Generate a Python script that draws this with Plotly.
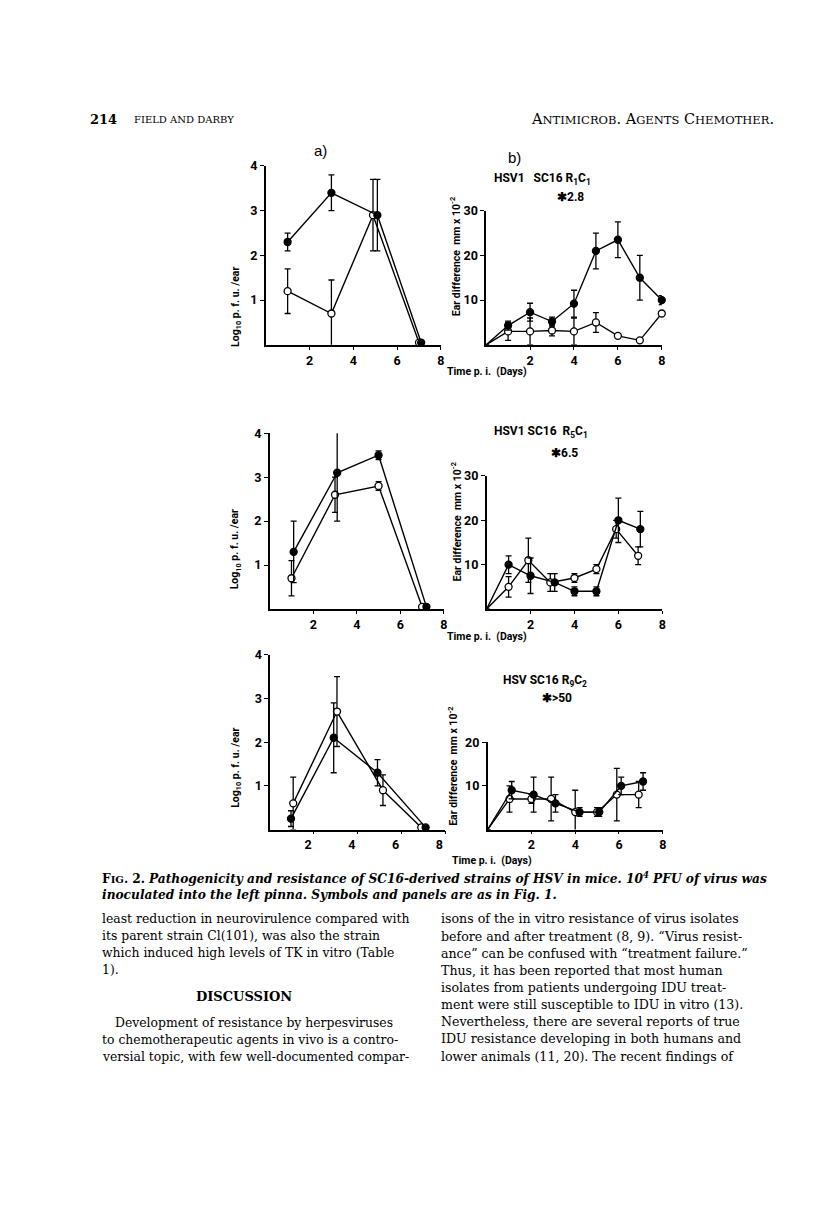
import plotly.graph_objects as go

# panel a) log10 p.f.u./ear, panel b) ear difference mm x 10^-2
# top row: HSV1 SC16 R1C1
a1_fill_x = [1, 3, 5.1, 7.1]
a1_fill_y = [2.3, 3.4, 2.9, 0.05]
a1_fill_err = [0.2, 0.4, 0.8, 0]
a1_open_x = [1, 3, 4.9, 7]
a1_open_y = [1.2, 0.7, 2.9, 0.05]
a1_open_err = [0.5, 0.75, 0.8, 0]

b1_fill_x = [0, 1, 2, 3, 4, 5, 6, 7, 8]
b1_fill_y = [0, 4.3, 7.3, 5.2, 9.2, 21, 23.5, 15, 10]
b1_fill_err = [0, 1, 2, 1, 3, 4, 4, 5, 1]
b1_open_x = [0, 1, 2, 3, 4, 5, 6, 7, 8]
b1_open_y = [0, 3, 3, 3.2, 3, 5, 2, 1, 7]
b1_open_err = [0, 2, 3, 1.2, 3, 2.2, 0, 0, 0]

# middle row: HSV1 SC16 R5C1
a5_fill_x = [1.1, 3.1, 5, 7.2]
a5_fill_y = [1.3, 3.1, 3.5, 0.05]
a5_fill_err = [0.7, 1.1, 0.1, 0]
a5_open_x = [1, 3, 5, 7]
a5_open_y = [0.7, 2.6, 2.8, 0.05]
a5_open_err = [0.4, 0.4, 0.1, 0]

b5_fill_x = [0, 1, 2, 3.1, 4, 5, 6, 7]
b5_fill_y = [0, 10, 7.5, 6, 4, 4, 20, 18]
b5_fill_err = [0, 2, 4, 2, 1, 1, 5, 4]
b5_open_x = [0, 1, 1.9, 2.9, 4, 5, 5.9, 6.9]
b5_open_y = [0, 5, 11, 6, 7, 9, 18, 12]
b5_open_err = [0, 2.3, 5, 2, 1, 1, 2, 2]

# bottom row: HSV SC16 R9C2
a9_fill_x = [0.95, 2.9, 4.9, 7.1]
a9_fill_y = [0.25, 2.1, 1.3, 0.05]
a9_fill_err = [0.18, 0.8, 0.3, 0]
a9_open_x = [1.05, 3.05, 5.15, 6.9]
a9_open_y = [0.6, 2.7, 0.9, 0.05]
a9_open_err = [0.6, 0.8, 0.35, 0]

b9_fill_x = [0, 1.1, 2.1, 3.1, 4.2, 5.1, 6.1, 7.1]
b9_fill_y = [0, 9, 8, 6, 4, 4, 10, 11]
b9_fill_err = [0, 2, 4, 2, 1, 1, 2, 2]
b9_open_x = [0, 1, 2, 2.9, 4, 5, 5.9, 6.9]
b9_open_y = [0, 7, 7, 7, 4, 4, 8, 8]
b9_open_err = [0, 3, 1, 5, 5, 1, 6, 3]

W, H = 816, 1205
OFF = 8  # the page body adds an 8px margin around the plot div
SANS = "Roboto, Liberation Sans, Arial, sans-serif"
SERIF = "DejaVu Serif, Liberation Serif, serif"


def px(x):
    return (x - OFF) / W


def py(y):
    return 1 - (y - OFF) / H


fig = go.Figure()

# (x-left, x-right, y-bottom, y-top) in pixels, y range, y ticks, x tick label shift
panels = [
    (267, 443, 339, 159, [0, 4], [1, 2, 3, 4], 0),
    (488.5, 665, 339, 204, [0, 30], [10, 20, 30], 0),
    (271, 446, 605, 428, [0, 4], [1, 2, 3, 4], 0),
    (489, 665.5, 605, 471, [0, 30], [10, 20, 30], 0),
    (271.5, 447.5, 827, 651, [0, 4], [1, 2, 3, 4], -6),
    (490, 666, 827, 739, [0, 20], [10, 20], 0),
]

series = [
    (a1_fill_x, a1_fill_y, a1_fill_err, a1_open_x, a1_open_y, a1_open_err),
    (b1_fill_x, b1_fill_y, b1_fill_err, b1_open_x, b1_open_y, b1_open_err),
    (a5_fill_x, a5_fill_y, a5_fill_err, a5_open_x, a5_open_y, a5_open_err),
    (b5_fill_x, b5_fill_y, b5_fill_err, b5_open_x, b5_open_y, b5_open_err),
    (a9_fill_x, a9_fill_y, a9_fill_err, a9_open_x, a9_open_y, a9_open_err),
    (b9_fill_x, b9_fill_y, b9_fill_err, b9_open_x, b9_open_y, b9_open_err),
]

axis_font = dict(family=SANS, size=12.5, color="black", weight="bold")

for i, ((x0, x1, yb, yt, yr, yt_vals, shift), s) in enumerate(zip(panels, series)):
    n = "" if i == 0 else str(i + 1)
    fx, fy, fe, ox, oy, oe = s
    for xs, ys, es, fill in [(ox, oy, oe, "white"), (fx, fy, fe, "black")]:
        sizes = [0 if (x == 0 and y == 0) else 7 for x, y in zip(xs, ys)]
        fig.add_trace(go.Scatter(
            x=xs, y=ys, mode="lines+markers",
            line=dict(color="black", width=1.4),
            marker=dict(size=sizes, color=fill, opacity=1,
                        line=dict(color="black", width=1.3)),
            error_y=dict(type="data", array=es, color="black", thickness=1.3, width=3),
            cliponaxis=False, showlegend=False,
            xaxis="x" + n, yaxis="y" + n,
        ))
    fig.layout["xaxis" + n] = dict(
        domain=[px(x0), px(x1)], range=[0, 8], anchor="y" + n,
        tickvals=[2, 4, 6, 8], showline=True, linecolor="black", linewidth=1.6,
        ticks="outside", ticklen=3, tickcolor="black", tickfont=axis_font,
        ticklabelshift=shift,
        showgrid=False, zeroline=False, fixedrange=True,
    )
    fig.layout["yaxis" + n] = dict(
        domain=[py(yb), py(yt)], range=yr, anchor="x" + n,
        tickvals=yt_vals, showline=True, linecolor="black", linewidth=1.6,
        ticks="outside", ticklen=4, tickcolor="black", tickfont=axis_font,
        showgrid=False, zeroline=False, fixedrange=True,
    )

ann = []


def text(x, y, s, size=12, family=SANS, anchor="center", angle=0, weight="bold", italic=False):
    ann.append(dict(
        x=px(x), y=py(y), xref="paper", yref="paper", text=s, showarrow=False,
        xanchor=anchor, yanchor="middle", textangle=angle,
        font=dict(family=family, size=size, color="black", weight=weight,
                  style="italic" if italic else "normal"),
    ))


# y-axis titles
log_title = "Log<sub>10</sub> p. f. u. /ear"
ear_title = "Ear difference  mm x 10<sup>-2</sup>"
text(237, 301, log_title, 10.5, angle=-90)
text(237, 545, log_title, 10.5, angle=-90)
text(237, 765, log_title, 10.5, angle=-90)
text(458, 250, ear_title, 10.5, angle=-90)
text(458, 517, ear_title, 10.5, angle=-90)
text(455, 763, ear_title, 10.5, angle=-90)

# x-axis titles
text(447, 366, "Time p. i.  (Days)", 10.5, anchor="left")
text(447, 633, "Time p. i.  (Days)", 10.5, anchor="left")
text(452, 858, "Time p. i.  (Days)", 10.5, anchor="left")

# strain titles
text(545, 172, "HSV1   SC16 R<sub>1</sub>C<sub>1</sub>", 12)
text(573, 190, "✱2.8", 12)
text(544, 427, "HSV1 SC16  R<sub>5</sub>C<sub>1</sub>", 12)
text(567, 448, "✱6.5", 12)
text(548, 677, "HSV SC16 R<sub>9</sub>C<sub>2</sub>", 12)
text(560, 695, "✱>50", 12)

# panel letters
text(322, 143, "a)", 15, family="Liberation Sans, Arial, sans-serif", weight="normal")
text(517, 150, "b)", 15, family="Liberation Sans, Arial, sans-serif", weight="normal")

# page header
text(88, 112, "214", 13, family=SERIF, anchor="left")
text(133, 112, "FIELD AND DARBY", 10, family=SERIF, anchor="left", weight="normal")
sc = "<span style='font-size:11.5px'>"
text(780, 112, "A" + sc + "NTIMICROB</span>. A" + sc + "GENTS</span> C" + sc + "HEMOTHER</span>.",
     14.5, family=SERIF, anchor="right", weight="normal")

# caption
sc2 = "<span style='font-size:10px'>"
text(100, 876, "<b>F" + sc2 + "IG</span>. 2.</b> <b><i>Pathogenicity and resistance of SC16-derived strains of HSV in mice. 10<sup>4</sup> PFU of virus was</i></b>",
     12.2, family=SERIF, anchor="left", weight="normal")
text(100, 893, "<b><i>inoculated into the left pinna. Symbols and panels are as in Fig. 1.</i></b>",
     12.2, family=SERIF, anchor="left", weight="normal")

left_lines = [
    (917, "least reduction in neurovirulence compared with", 100),
    (934, "its parent strain Cl(101), was also the strain", 100),
    (951, "which induced high levels of TK in vitro (Table", 100),
    (968, "1).", 100),
    (1021, "Development of resistance by herpesviruses", 114),
    (1038, "to chemotherapeutic agents in vivo is a contro-", 100),
    (1055, "versial topic, with few well-documented compar-", 100),
]
right_lines = [
    "isons of the in vitro resistance of virus isolates",
    "before and after treatment (8, 9). “Virus resist-",
    "ance” can be confused with “treatment failure.”",
    "Thus, it has been reported that most human",
    "isolates from patients undergoing IDU treat-",
    "ment were still susceptible to IDU in vitro (13).",
    "Nevertheless, there are several reports of true",
    "IDU resistance developing in both humans and",
    "lower animals (11, 20). The recent findings of",
]
for y, s, x in left_lines:
    text(x, y, s, 12.4, family=SERIF, anchor="left", weight="normal")
for k, s in enumerate(right_lines):
    text(441, 917 + 17.25 * k, s, 12.6, family=SERIF, anchor="left", weight="normal")
text(245, 995, "DISCUSSION", 13, family=SERIF, weight="bold")

fig.update_layout(
    width=W, height=H, margin=dict(l=0, r=0, t=0, b=0),
    paper_bgcolor="white", plot_bgcolor="white",
    annotations=ann, showlegend=False,
)

fig.write_html("out.html")
